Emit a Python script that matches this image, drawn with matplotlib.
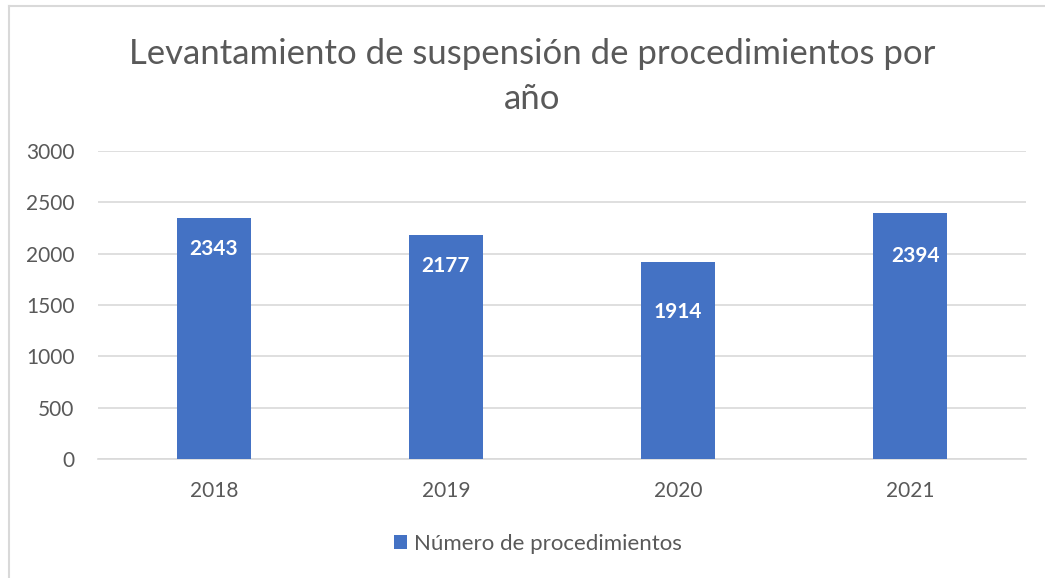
import matplotlib.pyplot as plt
from matplotlib.lines import Line2D

# Data
years = ['2018', '2019', '2020', '2021']
procedimientos = [2343, 2177, 1914, 2394]
yticks = [0, 500, 1000, 1500, 2000, 2500, 3000]

title = 'Levantamiento de suspensión de procedimientos por\naño'
legend_label = 'Número de procedimientos'

# label placement below bar top (pixels), as in the original
label_dy = [31, 31, 50, 43]
label_dx = [0, 0, 0, 6]

bar_color = '#4472c4'
text_color = '#595959'
grid_color = '#d9d9d9'

plt.rcParams['font.family'] = ['Lato', 'DejaVu Sans']

fig = plt.figure(figsize=(10.45, 5.78), dpi=100)
ax = fig.add_axes([98/1045, 1 - 459/578, 928/1045, 308/578])

x = range(len(years))
bars = ax.bar(x, procedimientos, width=0.315, color=bar_color, label=legend_label, zorder=3)

ax.set_xlim(-0.5, len(years) - 0.5)
ax.set_ylim(0, 3000)
ax.set_yticks(yticks)
ax.set_xticks(list(x))
ax.set_xticklabels(years)
ax.tick_params(axis='both', length=0, labelsize=15, labelcolor=text_color)
ax.tick_params(axis='y', pad=17)
ax.tick_params(axis='x', pad=16)

ax.grid(axis='y', color=grid_color, linewidth=1.2, zorder=0)
for side in ['top', 'right', 'left']:
    ax.spines[side].set_visible(False)
ax.spines['bottom'].set_color(grid_color)
ax.spines['bottom'].set_linewidth(1.2)

# data labels
for i, (b, v) in enumerate(zip(bars, procedimientos)):
    ax.annotate(str(v), (b.get_x() + b.get_width() / 2, v),
                xytext=(label_dx[i] * 0.72, -label_dy[i] * 0.72), textcoords='offset points',
                ha='center', va='center', color='white', fontsize=15, fontweight='bold')

fig.text(532/1045, 1 - 77/578, title, ha='center', va='center', fontsize=25,
         color=text_color, linespacing=1.5)

fig.legend(loc='center', bbox_to_anchor=(538/1045, 1 - 544/578), frameon=False,
           fontsize=16, labelcolor=text_color, handlelength=0.6, handleheight=0.6,
           handletextpad=0.3)

# chart border (left and top visible)
fig.add_artist(Line2D([9/1045, 9/1045], [0, 1 - 6/578], transform=fig.transFigure,
                      color=grid_color, linewidth=1.5))
fig.add_artist(Line2D([9/1045, 1], [1 - 6/578, 1 - 6/578], transform=fig.transFigure,
                      color=grid_color, linewidth=1.5))

fig.savefig('out.png', dpi=100)
